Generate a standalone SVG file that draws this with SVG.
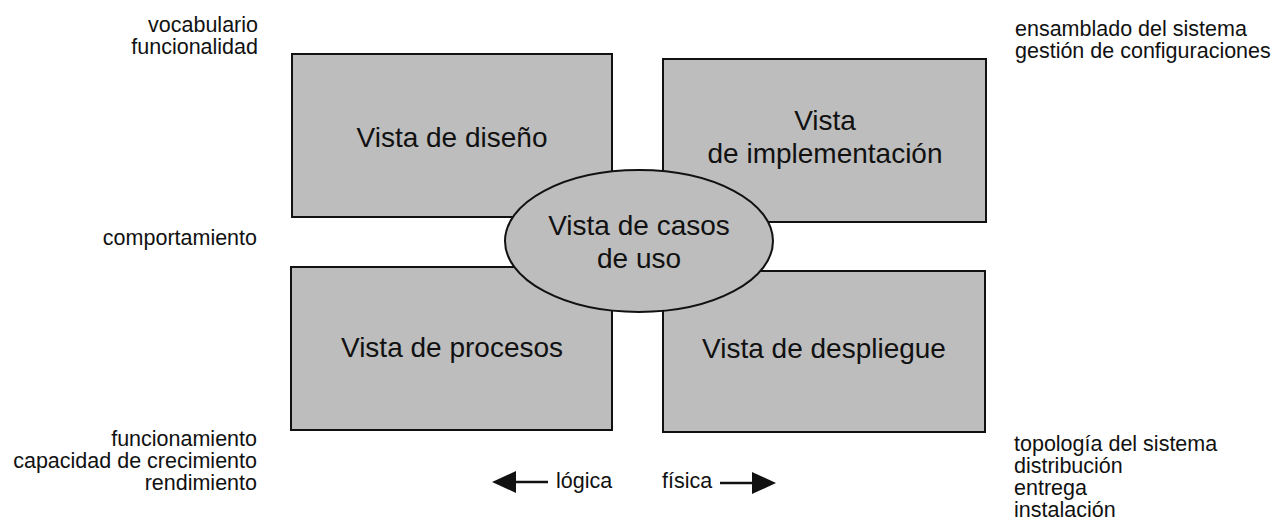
<svg xmlns="http://www.w3.org/2000/svg" width="1287" height="526" viewBox="0 0 1287 526">
<style>
.box{fill:#bdbdbd;stroke:#111;stroke-width:2}
.big{font-family:"Liberation Sans",Arial,sans-serif;font-size:28px;fill:#111;text-anchor:middle}
.sm{font-family:"Liberation Sans",Arial,sans-serif;font-size:21.5px;fill:#111}
.r{text-anchor:end}
</style>
<defs>
<marker id="ah" viewBox="0 0 24 22" refX="0" refY="11" markerWidth="24" markerHeight="22" markerUnits="userSpaceOnUse" orient="auto">
<path d="M0,0 L24,11 L0,22 Z" fill="#111"/>
</marker>
</defs>
<rect width="1287" height="526" fill="#fff"/>
<g id="vista-diseno">
<rect class="box" x="292" y="54" width="320" height="163"/>
<text class="big" x="452" y="147">Vista de diseño</text>
</g>
<g id="vista-implementacion">
<rect class="box" x="663" y="59" width="323" height="163"/>
<text class="big" x="825" y="130">Vista</text>
<text class="big" x="825" y="163">de implementación</text>
</g>
<g id="vista-procesos">
<rect class="box" x="291" y="267" width="321" height="163"/>
<text class="big" x="452" y="357">Vista de procesos</text>
</g>
<g id="vista-despliegue">
<rect class="box" x="663" y="271" width="322" height="161"/>
<text class="big" x="824" y="358">Vista de despliegue</text>
</g>
<g id="vista-casos-uso">
<ellipse class="box" cx="639" cy="241" rx="134" ry="71"/>
<text class="big" x="639" y="235">Vista de casos</text>
<text class="big" x="639" y="268">de uso</text>
</g>
<g id="labels">
<text class="sm r" x="258" y="32">vocabulario</text>
<text class="sm r" x="258" y="54">funcionalidad</text>
<text class="sm r" x="257" y="245">comportamiento</text>
<text class="sm r" x="257" y="446">funcionamiento</text>
<text class="sm r" x="257" y="468">capacidad de crecimiento</text>
<text class="sm r" x="257" y="490">rendimiento</text>
<text class="sm" x="1015" y="36">ensamblado del sistema</text>
<text class="sm" x="1015" y="58">gestión de configuraciones</text>
<text class="sm" x="1014" y="451">topología del sistema</text>
<text class="sm" x="1014" y="473">distribución</text>
<text class="sm" x="1014" y="495">entrega</text>
<text class="sm" x="1014" y="517">instalación</text>
<text class="sm" x="556" y="488">lógica</text>
<text class="sm" x="662" y="488">física</text>
</g>
<g id="connectors">
<line x1="548" y1="482" x2="516" y2="482" stroke="#111" stroke-width="2.5" marker-end="url(#ah)"/>
<line x1="720" y1="483" x2="752" y2="483" stroke="#111" stroke-width="2.5" marker-end="url(#ah)"/>
</g>
</svg>
